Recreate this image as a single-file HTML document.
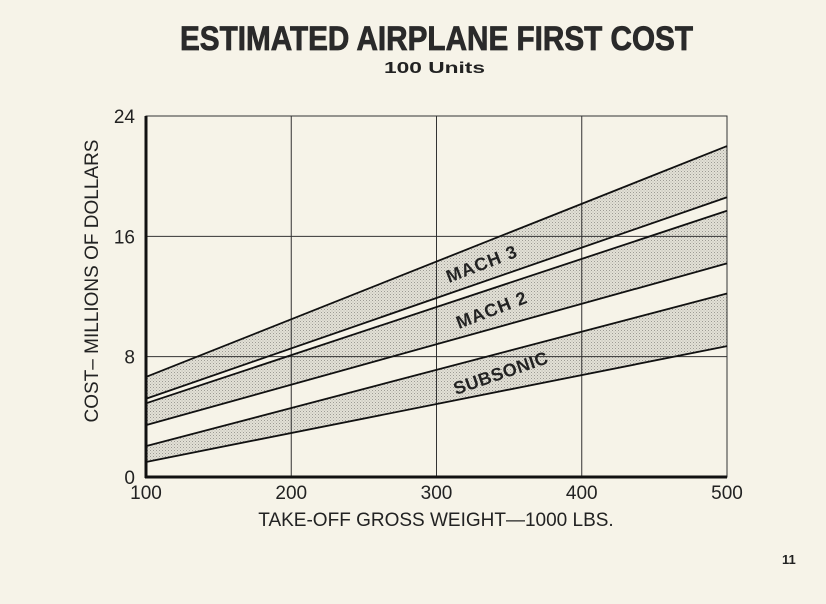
<!DOCTYPE html>
<html><head><meta charset="utf-8"><style>
html,body{margin:0;padding:0;background:#f6f3e8;}
svg{display:block;font-family:"Liberation Sans",sans-serif;}
</style></head><body>
<svg id="chart" width="826" height="604" viewBox="0 0 826 604" xmlns="http://www.w3.org/2000/svg">
<defs>
<pattern id="dots" width="3" height="3" patternUnits="userSpaceOnUse">
<rect width="3" height="3" fill="#e2e0d6"/><rect x="0" y="0" width="1" height="1" fill="#9d9b94"/><rect x="1.5" y="1.5" width="1" height="1" fill="#b5b3ab"/>
</pattern>
</defs>
<rect width="826" height="604" fill="#f6f3e8"/>
<text x="180" y="50" font-size="34" font-weight="bold" fill="#2a2a2a" stroke="#2a2a2a" stroke-width="0.8" textLength="513" lengthAdjust="spacingAndGlyphs">ESTIMATED AIRPLANE FIRST COST</text>
<text x="384" y="73" font-size="16" font-weight="bold" fill="#222" textLength="101" lengthAdjust="spacingAndGlyphs">100 Units</text>
<g id="bands"></g>
<g id="grid"></g>
<g id="lines"></g>
<g id="ticks"></g>
<text transform="translate(449,283) rotate(-21)" font-size="18" font-weight="bold" fill="#222" letter-spacing="1">MACH 3</text>
<text transform="translate(459,329) rotate(-21)" font-size="18" font-weight="bold" fill="#222" letter-spacing="1">MACH 2</text>
<text transform="translate(456,395) rotate(-19)" font-size="18" font-weight="bold" fill="#222" letter-spacing="0.5">SUBSONIC</text>
<text transform="translate(98,281) rotate(-90)" text-anchor="middle" font-size="19" fill="#222">COST– MILLIONS OF DOLLARS</text>
<text x="436" y="526" text-anchor="middle" font-size="19" fill="#222">TAKE-OFF GROSS WEIGHT—1000 LBS.</text>
<text x="782" y="564" font-size="13" font-weight="bold" fill="#222">11</text>
</svg>
<script>
const xTicks = [100, 200, 300, 400, 500];
const yTicks = [0, 8, 16, 24];
const weights = [100, 500];
const mach3Upper = [6.65, 22.0];
const mach3Lower = [5.2, 18.6];
const mach2Upper = [4.9, 17.7];
const mach2Lower = [3.45, 14.2];
const subsonicUpper = [2.05, 12.2];
const subsonicLower = [1.0, 8.7];

const X0 = 146, X1 = 727, Y0 = 477, Y1 = 116;
const sx = v => X0 + (v - 100) / 400 * (X1 - X0);
const sy = v => Y0 - v / 24 * (Y0 - Y1);
const NS = "http://www.w3.org/2000/svg";
function mk(tag, attrs, parent) {
  const e = document.createElementNS(NS, tag);
  for (const k in attrs) e.setAttribute(k, attrs[k]);
  document.getElementById(parent).appendChild(e);
  return e;
}
const bands = [["mach-3", mach3Upper, mach3Lower], ["mach-2", mach2Upper, mach2Lower], ["subsonic", subsonicUpper, subsonicLower]];
bands.forEach(b => {
  const pts = weights.map((w, i) => sx(w) + "," + sy(b[1][i]))
    .concat(weights.slice().reverse().map((w, i) => sx(w) + "," + sy(b[2][weights.length - 1 - i])));
  const p = mk("polygon", {points: pts.join(" "), fill: "url(#dots)"}, "bands");
  
  
});
xTicks.slice(1, -1).forEach(t => {
  const l = mk("line", {x1: sx(t), x2: sx(t), y1: Y1, y2: Y0, stroke: "#333", "stroke-width": 1}, "grid");
  
  
});
yTicks.slice(1, -1).forEach(t => {
  const l = mk("line", {x1: X0, x2: X1, y1: sy(t), y2: sy(t), stroke: "#333", "stroke-width": 1}, "grid");
  
  
});
const frame = mk("rect", {x: X0, y: Y1, width: X1 - X0, height: Y0 - Y1, fill: "none", stroke: "#333", "stroke-width": 1}, "grid");


const xAxis = mk("line", {x1: X0 - 1, x2: X1, y1: Y0, y2: Y0, stroke: "#111", "stroke-width": 3}, "grid");


const yAxis = mk("line", {x1: X0, x2: X0, y1: Y1, y2: Y0 + 1, stroke: "#111", "stroke-width": 3}, "grid");


[mach3Upper, mach3Lower, mach2Upper, mach2Lower, subsonicUpper, subsonicLower].forEach(s => {
  const l = mk("line", {x1: sx(weights[0]), y1: sy(s[0]), x2: sx(weights[1]), y2: sy(s[1]), stroke: "#111", "stroke-width": 1.8}, "lines");
  
  
});
xTicks.forEach(t => {
  const e = mk("text", {x: sx(t), y: 499, "text-anchor": "middle", "font-size": 19, fill: "#222"}, "ticks");
  e.textContent = t;
  
  
});
yTicks.forEach(t => {
  const e = mk("text", {x: 135, y: sy(t) + 7, "text-anchor": "end", "font-size": 19, fill: "#222"}, "ticks");
  e.textContent = t;
  
  
});
</script>
</body></html>
